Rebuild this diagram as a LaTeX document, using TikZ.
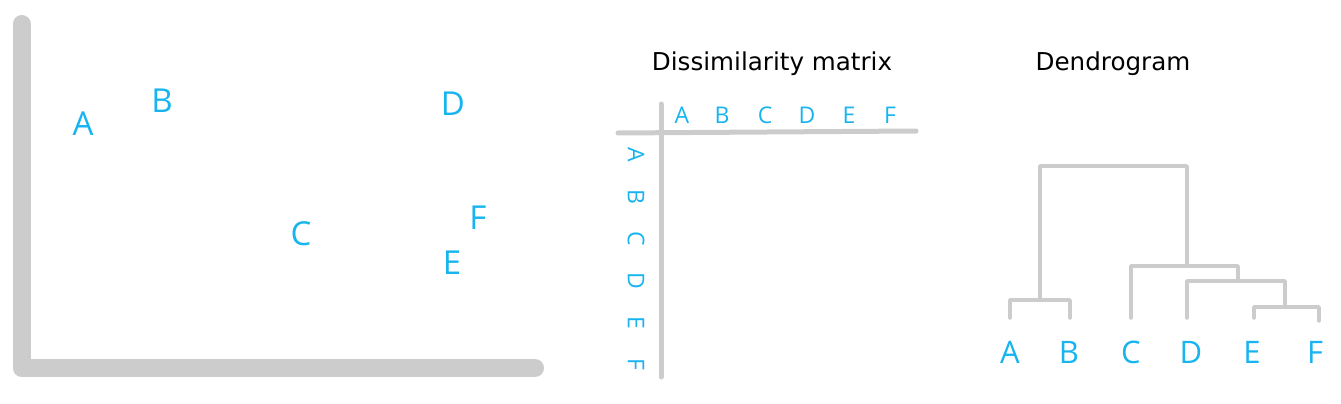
\documentclass[tikz,border=0pt]{standalone}
\usepackage{fontspec}
\setmainfont{DejaVu Sans}
\newfontfamily\lblfont{Open Sans}
\definecolor{lblblue}{RGB}{24,180,240}
\definecolor{axisgray}{RGB}{204,204,204}
\begin{document}
\begin{tikzpicture}[x=1pt,y=-1pt,
  pt/.style={inner sep=0pt,text=lblblue,font=\lblfont\fontsize{33}{33}\selectfont},
  mat/.style={inner sep=0pt,text=lblblue,font=\lblfont\fontsize{23}{23}\selectfont},
  leaf/.style={inner sep=0pt,text=lblblue,font=\lblfont\fontsize{31}{31}\selectfont},
  ttl/.style={inner sep=0pt,font=\fontsize{24.6}{24.6}\selectfont},
  axisline/.style={draw=axisgray,line width=18pt,line cap=round,line join=round},
  matline/.style={draw=axisgray,line width=5pt,line cap=round},
  dline/.style={draw=axisgray,line width=3.5pt,line cap=round,line join=round}]
\useasboundingbox (0,0) rectangle (1341,404);
% scatter plot
\coordinate (ytop) at (21.5,24);
\coordinate (orig) at (21.5,368);
\coordinate (xend) at (535,368);
\draw[axisline] (ytop) -- (orig) -- (xend);
\node[pt] (sA) at (83,124) {A};
\node[pt] (sB) at (162,101) {B};
\node[pt] (sC) at (301,234) {C};
\node[pt] (sD) at (453,104) {D};
\node[pt] (sE) at (452,263) {E};
\node[pt] (sF) at (478,218) {F};
% dissimilarity matrix
\node[ttl] (t1) at (772,64) {Dissimilarity matrix};
\coordinate (mvt) at (661,104);
\coordinate (mvb) at (661,377);
\coordinate (mhl) at (618,133);
\coordinate (mhr) at (916,131);
\draw[matline] (mvt) -- (mvb);
\draw[matline] (mhl) -- (mhr);
\foreach \l/\x in {A/682,B/722,C/765,D/807,E/849,F/890}
  \node[mat] (c\l) at (\x,115) {\l};
\foreach \l/\y in {A/155,B/197,C/239,D/281,E/323,F/364}
  \node[mat,rotate=-90] (r\l) at (636,\y) {\l};
% dendrogram
\node[ttl] (t2) at (1113,64) {Dendrogram};
\foreach \l/\x in {A/1010,B/1069,C/1131,D/1191,E/1252,F/1315}
  \node[leaf] (l\l) at (\x,352) {\l};
\coordinate (a0) at (1010,318);
\coordinate (b0) at (1070,318);
\coordinate (c0) at (1131,318);
\coordinate (d0) at (1187,318);
\coordinate (e0) at (1254,318);
\coordinate (f0) at (1319,321);
\coordinate (ab) at (1040,300);
\coordinate (ef) at (1285,307);
\coordinate (def) at (1238,281);
\coordinate (cdef) at (1187,266);
\coordinate (root) at (1040,166);
\draw[dline] (a0) -- (a0 |- ab) -- (b0 |- ab) -- (b0);
\draw[dline] (e0) -- (e0 |- ef) -- (f0 |- ef) -- (f0);
\draw[dline] (d0) -- (d0 |- def) -- (ef |- def) -- (ef);
\draw[dline] (c0) -- (c0 |- cdef) -- (def |- cdef) -- (def);
\draw[dline] (ab) -- (root) -- (cdef |- root) -- (cdef);
\end{tikzpicture}
\end{document}
